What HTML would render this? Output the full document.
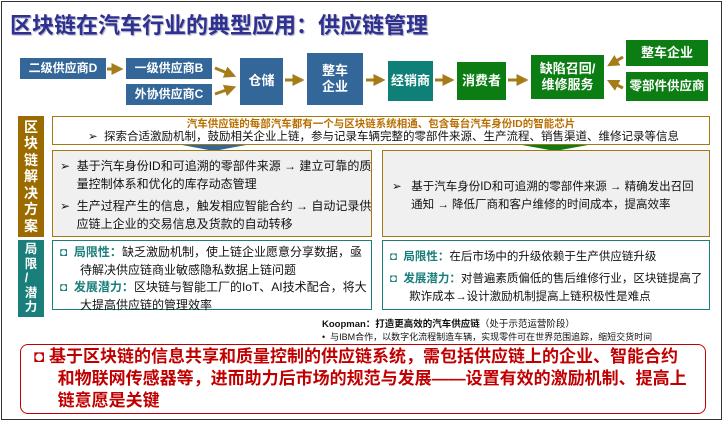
<!DOCTYPE html>
<html><head><meta charset="utf-8"><style>
*{margin:0;padding:0;box-sizing:border-box}
body{width:723px;height:421px;background:#fff;font-family:"Liberation Sans","Noto Sans CJK SC",sans-serif;position:relative;overflow:hidden}
.a{position:absolute}
.frame{left:1px;top:1px;width:721px;height:419px;border:1px solid #333}
.b{position:absolute;color:#fff;font-weight:bold;display:flex;align-items:center;justify-content:center;text-align:center;line-height:1.25}
.bl{background:#336699}.tl{background:#0e8078}.gr{background:#0b7d12}
.side{position:absolute;color:#fff;font-weight:bold;font-size:14px;display:flex;flex-direction:column;align-items:center;justify-content:center;line-height:16.5px}
.t{font-size:12px;color:#111;line-height:18px;white-space:nowrap}
.r{font-size:11.5px}
</style></head><body>
<div class="a frame"></div>
<div class="a" style="left:10px;top:8px;font-size:22px;font-weight:bold;color:#2e3192;text-shadow:1px 1px 1px #aab">区块链在汽车行业的典型应用：供应链管理</div>

<div class="b bl" style="left:20px;top:58px;width:86px;height:21px;font-size:12px">二级供应商D</div>
<div class="b bl" style="left:126px;top:58px;width:86px;height:21px;font-size:12px">一级供应商B</div>
<div class="b bl" style="left:126px;top:84px;width:86px;height:21px;font-size:12px">外协供应商C</div>
<div class="b bl" style="left:240px;top:58px;width:43px;height:47px;font-size:13px">仓储</div>
<div class="b bl" style="left:307px;top:53px;width:56px;height:52px;font-size:13px">整车<br>企业</div>
<div class="b tl" style="left:388px;top:61px;width:45px;height:40px;font-size:13px">经销商</div>
<div class="b gr" style="left:457px;top:62px;width:49px;height:38px;font-size:13px">消费者</div>
<div class="b gr" style="left:531px;top:55px;width:73px;height:44px;font-size:13px">缺陷召回/<br>维修服务</div>
<div class="b gr" style="left:626px;top:40px;width:82px;height:26px;font-size:13px">整车企业</div>
<div class="b gr" style="left:626px;top:72px;width:82px;height:29px;font-size:12.5px">零部件供应商</div>

<svg class="a" style="left:0;top:0" width="723" height="120">
<defs><marker id="m" markerWidth="4" markerHeight="4" refX="2.5" refY="2" orient="auto"><path d="M0,0L4,2L0,4z" fill="#a67c1a"/></marker></defs>
<g stroke="#a67c1a" stroke-width="3" marker-end="url(#m)">
<line x1="107" y1="69" x2="119" y2="69"/>
<line x1="215" y1="68" x2="232" y2="75"/>
<line x1="215" y1="94" x2="232" y2="88"/>
<line x1="285" y1="80" x2="300" y2="80"/>
<line x1="366" y1="80" x2="381" y2="80"/>
<line x1="435" y1="80" x2="450" y2="80"/>
<line x1="508" y1="80" x2="524" y2="80"/>
<line x1="623" y1="57" x2="611" y2="64"/>
<line x1="623" y1="88" x2="611" y2="82"/>
</g></svg>

<div class="side" style="left:18px;top:116px;width:26px;height:121px;background:#9c6b00">区<br>块<br>链<br>解<br>决<br>方<br>案</div>
<div class="a" style="left:52px;top:116px;width:658px;height:29px;border:1px solid #a07a10"></div>
<div class="a" style="left:52px;top:118px;width:658px;text-align:center;font-size:10.5px;line-height:12px;font-weight:bold;color:#b86e00;white-space:nowrap">汽车供应链的每部汽车都有一个与区块链系统相通、包含每台汽车身份ID的智能芯片</div>
<div class="a t" style="left:88px;top:131px;font-size:11.5px;line-height:12px">➢&nbsp;&nbsp;探索合适激励机制，鼓励相关企业上链，参与记录车辆完整的零部件来源、生产流程、销售渠道、维修记录等信息</div>
<svg class="a" style="left:0;top:145px" width="723" height="7"><polygon points="182,0 246,0 214,6" fill="#336699"/><polygon points="522,0 588,0 555,6" fill="#0b7d12"/></svg>

<div class="a" style="left:52px;top:150px;width:320px;height:87px;border:1px solid #a07a10;background:#f0f0f0"></div>
<div class="a t" style="left:60px;top:157px">➢&nbsp;&nbsp;基于汽车身份ID和可追溯的零部件来源 → 建立可靠的质<br>&nbsp;&nbsp;&nbsp;&nbsp;&nbsp;量控制体系和优化的库存动态管理</div>
<div class="a t" style="left:60px;top:197px">➢&nbsp;&nbsp;生产过程产生的信息，触发相应智能合约 → 自动记录供<br>&nbsp;&nbsp;&nbsp;&nbsp;&nbsp;应链上企业的交易信息及货款的自动转移</div>
<div class="a" style="left:382px;top:150px;width:328px;height:87px;border:1px solid #a07a10;background:#f0f0f0"></div>
<div class="a t r" style="left:392px;top:178px">➢&nbsp;&nbsp;&nbsp;基于汽车身份ID和可追溯的零部件来源 → 精确发出召回<br>&nbsp;&nbsp;&nbsp;&nbsp;&nbsp;&nbsp;通知 → 降低厂商和客户维修的时间成本，提高效率</div>

<div class="side" style="left:18px;top:240px;width:26px;height:77px;background:#1a7f7a;font-size:12.5px;line-height:14.5px">局<br>限<br>/<br>潜<br>力</div>
<div class="a" style="left:52px;top:240px;width:320px;height:70px;border:1px solid #1a7f7a"></div>
<div class="a t" style="left:60px;top:243px"><span style="color:#1a7f7a">◘</span>&nbsp;&nbsp;<b style="color:#1a7f7a">局限性：</b>缺乏激励机制，使上链企业愿意分享数据，亟<br>&nbsp;&nbsp;&nbsp;&nbsp;&nbsp;&nbsp;待解决供应链商业敏感隐私数据上链问题</div>
<div class="a t" style="left:60px;top:278px"><span style="color:#1a7f7a">◘</span>&nbsp;&nbsp;<b style="color:#1a7f7a">发展潜力：</b>区块链与智能工厂的IoT、AI技术配合，将大<br>&nbsp;&nbsp;&nbsp;&nbsp;&nbsp;&nbsp;大提高供应链的管理效率</div>
<div class="a" style="left:382px;top:240px;width:328px;height:70px;border:1px solid #1a7f7a"></div>
<div class="a t r" style="left:390px;top:248px"><span style="color:#1a7f7a">◘</span>&nbsp;&nbsp;<b style="color:#1a7f7a">局限性：</b>在后市场中的升级依赖于生产供应链升级</div>
<div class="a t r" style="left:390px;top:270px"><span style="color:#1a7f7a">◘</span>&nbsp;&nbsp;<b style="color:#1a7f7a">发展潜力：</b>对普遍素质偏低的售后维修行业，区块链提高了<br>&nbsp;&nbsp;&nbsp;&nbsp;&nbsp;&nbsp;欺诈成本→设计激励机制提高上链积极性是难点</div>

<div class="a" style="left:322px;top:316px;font-size:9.5px;color:#111"><b>Koopman：打造更高效的汽车供应链</b>（处于示范运营阶段）</div>
<div class="a" style="left:322px;top:330px;font-size:9px;color:#111">•&nbsp;&nbsp;与IBM合作，以数字化流程制造车辆，实现零件可在世界范围追踪，缩短交货时间</div>

<div class="a" style="left:20px;top:344px;width:686px;height:70px;border:1.5px solid #c00000;border-radius:8px"></div>
<div class="a" style="left:34px;top:346px;width:672px;font-size:17px;font-weight:bold;color:#c00000;line-height:22px;white-space:nowrap">◘&nbsp;基于区块链的信息共享和质量控制的供应链系统，需包括供应链上的企业、智能合约<br>&nbsp;&nbsp;&nbsp;&nbsp;&nbsp;和物联网传感器等，进而助力后市场的规范与发展——设置有效的激励机制、提高上<br>&nbsp;&nbsp;&nbsp;&nbsp;&nbsp;链意愿是关键</div>
</body></html>
